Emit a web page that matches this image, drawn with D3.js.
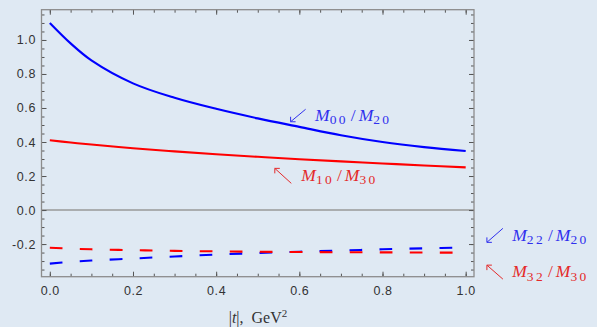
<!DOCTYPE html>
<html>
<head>
<meta charset="utf-8">
<script src="https://cdn.jsdelivr.net/npm/d3@7"></script>
<style>
  html, body { margin: 0; padding: 0; background: #dfe9f3; }
  svg { display: block; }
</style>
</head>
<body>
<svg id="chart" width="597" height="327"></svg>
<script>
// values
const tValues = [0, 0.05, 0.1, 0.2, 0.3, 0.4, 0.5, 0.6, 0.7, 0.8, 0.9, 1.0];
const m00m20 = [1.100, 0.980, 0.880, 0.745, 0.660, 0.595, 0.539, 0.489, 0.440, 0.400, 0.370, 0.347];
const m10m30 = [0.410, 0.397, 0.385, 0.363, 0.345, 0.328, 0.313, 0.299, 0.286, 0.274, 0.262, 0.251];
const m22m20 = [-0.315, -0.305, -0.297, -0.285, -0.273, -0.262, -0.253, -0.245, -0.238, -0.231, -0.225, -0.220];
const m32m30 = [-0.222, -0.227, -0.231, -0.236, -0.240, -0.243, -0.245, -0.247, -0.248, -0.249, -0.250, -0.251];

const xTicks = [0, 0.2, 0.4, 0.6, 0.8, 1.0];
const yTicks = [-0.2, 0, 0.2, 0.4, 0.6, 0.8, 1.0];
const xTickLabels = ["0.0", "0.2", "0.4", "0.6", "0.8", "1.0"];
const yTickLabels = ["-0.2", "0.0", "0.2", "0.4", "0.6", "0.8", "1.0"];

const BLUE = "#0000ff";
const RED = "#ff0000";
const BLUE_TEXT = "#3030ee";
const RED_TEXT = "#e42a2a";

const svg = d3.select("#chart");

const plotLeft = 41.5, plotRight = 474, plotTop = 9.7, plotBottom = 276.7;

const x = d3.scaleLinear().domain([-0.02, 1.02]).range([plotLeft, plotRight]);
const y = d3.scaleLinear().domain([-0.392, 1.178]).range([plotBottom, plotTop]);

// zero line
svg.append("line")
  .attr("x1", plotLeft).attr("x2", plotRight)
  .attr("y1", y(0)).attr("y2", y(0))
  .attr("stroke", "#999").attr("stroke-width", 1.4);

// series
const series = [
  { name: "M22/M20", values: m22m20, color: BLUE, dash: "12.7,17.3" },
  { name: "M32/M30", values: m32m30, color: RED, dash: "12.7,17.3" },
  { name: "M10/M30", values: m10m30, color: RED, dash: null },
  { name: "M00/M20", values: m00m20, color: BLUE, dash: null },
];

const line = d3.line()
  .x((d) => x(d[0]))
  .y((d) => y(d[1]))
  .curve(d3.curveCatmullRom.alpha(0.5));

svg.append("g")
  .selectAll("path")
  .data(series)
  .join("path")
  .attr("d", (s) => line(tValues.map((t, i) => [t, s.values[i]])))
  .attr("fill", "none")
  .attr("stroke", (s) => s.color)
  .attr("stroke-width", 2.1)
  .attr("stroke-dasharray", (s) => s.dash);

// frame + ticks (inward, Mathematica style)
const minorX = d3.range(0, 1.001, 0.05);
const minorY = d3.range(-0.35, 1.151, 0.05);
const tickFont = (g) => g
  .attr("font-family", "'Liberation Sans', Arial, sans-serif")
  .attr("font-size", 12.5)
  .call((g) => g.selectAll("text").attr("fill", "#333").attr("letter-spacing", "0.6px"));
const styleAxis = (g) => {
  g.select(".domain").remove();
  g.selectAll(".tick line").attr("stroke", "#555").attr("stroke-width", 1);
};

// minor ticks
[
  [d3.axisBottom(x), plotBottom],
  [d3.axisTop(x), plotTop],
].forEach(([ax, pos]) => {
  svg.append("g")
    .attr("transform", `translate(0,${pos})`)
    .call(ax.tickValues(minorX).tickSize(-3).tickFormat(""))
    .call(styleAxis);
});
[
  [d3.axisLeft(y), plotLeft],
  [d3.axisRight(y), plotRight],
].forEach(([ax, pos]) => {
  svg.append("g")
    .attr("transform", `translate(${pos},0)`)
    .call(ax.tickValues(minorY).tickSize(-3).tickFormat(""))
    .call(styleAxis);
});

// major ticks
svg.append("g")
  .attr("transform", `translate(0,${plotBottom})`)
  .call(d3.axisBottom(x).tickValues(xTicks).tickSize(-5).tickPadding(9)
    .tickFormat((d, i) => xTickLabels[i]))
  .call(styleAxis).call(tickFont);
svg.append("g")
  .attr("transform", `translate(0,${plotTop})`)
  .call(d3.axisTop(x).tickValues(xTicks).tickSize(-5).tickFormat(""))
  .call(styleAxis);
svg.append("g")
  .attr("transform", `translate(${plotLeft},0)`)
  .call(d3.axisLeft(y).tickValues(yTicks).tickSize(-5).tickPadding(5.5)
    .tickFormat((d, i) => yTickLabels[i]))
  .call(styleAxis).call(tickFont);
svg.append("g")
  .attr("transform", `translate(${plotRight},0)`)
  .call(d3.axisRight(y).tickValues(yTicks).tickSize(-5).tickFormat(""))
  .call(styleAxis);

svg.append("rect")
  .attr("x", plotLeft).attr("y", plotTop)
  .attr("width", plotRight - plotLeft).attr("height", plotBottom - plotTop)
  .attr("fill", "none").attr("stroke", "#8c8c8c").attr("stroke-width", 1.3);

// axis title
const title = svg.append("text")
  .attr("x", 258).attr("y", 323)
  .attr("text-anchor", "middle")
  .attr("font-family", "'Liberation Serif', 'Times New Roman', serif")
  .attr("font-size", 16)
  .attr("fill", "#333");
title.append("tspan").text("|");
title.append("tspan").attr("font-style", "italic").text("t");
title.append("tspan").text("|,\u00a0\u00a0GeV");
title.append("tspan").attr("font-size", 11).attr("dy", -6).text("2");

// annotations: arrow tip in data coords, tail / text offsets in px
const labels = [
  { t: 0.579, v: 0.519, tail: [15, -12.5], text: [24.5, -1], head: "down", color: BLUE_TEXT, a: "00", b: "20" },
  { t: 0.541, v: 0.245, tail: [16.5, 15], text: [26.5, 12.4], head: "up", color: RED_TEXT, a: "10", b: "30" },
  { t: 1.051, v: -0.19, tail: [16, -14], text: [25.4, -1.8], head: "down", color: BLUE_TEXT, a: "22", b: "20" },
  { t: 1.051, v: -0.324, tail: [16, 14], text: [25.4, 12.3], head: "up", color: RED_TEXT, a: "32", b: "30" },
];

labels.forEach((l) => {
  const px = x(l.t), py = y(l.v);
  const g = svg.append("g").attr("transform", `translate(${px},${py})`);
  const hv = l.head === "down" ? -5 : 5;
  g.append("path")
    .attr("d", `M${l.tail[0]},${l.tail[1]}L0,0M0,${hv}L0,0L5,0`)
    .attr("fill", "none")
    .attr("stroke", l.color)
    .attr("stroke-width", 1);

  const txt = g.append("text")
    .attr("x", l.text[0]).attr("y", l.text[1])
    .attr("font-family", "'Liberation Serif', 'Times New Roman', serif")
    .attr("fill", l.color);
  txt.append("tspan").attr("font-size", 17.5).attr("font-style", "italic").text("M");
  txt.append("tspan").attr("font-size", 13.5).attr("letter-spacing", "2.3px").attr("dy", 3.5).text(l.a);
  txt.append("tspan").attr("font-size", 17.5).attr("dy", -3.5).attr("dx", 3).text("/");
  txt.append("tspan").attr("font-size", 17.5).attr("font-style", "italic").attr("dx", 3).text("M");
  txt.append("tspan").attr("font-size", 13.5).attr("letter-spacing", "2.3px").attr("dy", 3.5).text(l.b);
});
</script>
</body>
</html>
